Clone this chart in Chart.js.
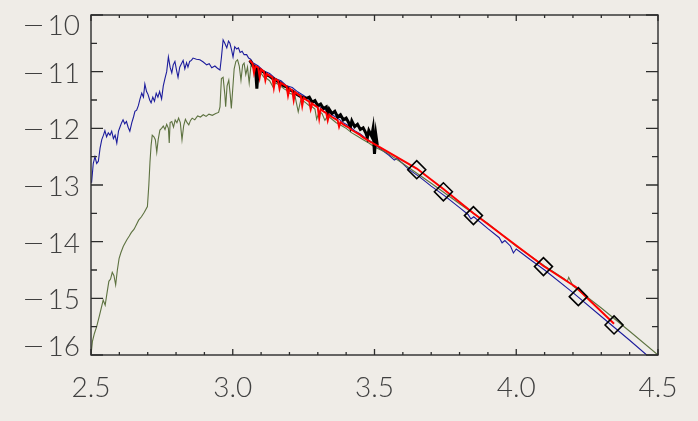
<!DOCTYPE html>
<html>
<head>
<meta charset="utf-8">
<script src="https://cdn.jsdelivr.net/npm/chart.js@4.4.1/dist/chart.umd.min.js"></script>
<style>
  html, body { margin: 0; padding: 0; background: #efece7; }
  #wrap { width: 698px; height: 421px; position: relative; }
</style>
</head>
<body>
<div id="wrap"><canvas id="sed"></canvas></div>
<script>
// axis tick labels
var xLabels = [2.5, 3.0, 3.5, 4.0, 4.5];
var yLabels = [-10, -11, -12, -13, -14, -15, -16];

// blue spectrum
var blueX = [2.502, 2.508, 2.514, 2.520, 2.526, 2.532, 2.538, 2.544, 2.549, 2.555, 2.561, 2.567, 2.573, 2.579, 2.585,
  2.591, 2.597, 2.602, 2.608, 2.613, 2.619, 2.625, 2.631, 2.637, 2.644, 2.650, 2.655, 2.661, 2.667, 2.673,
  2.679, 2.685, 2.690, 2.696, 2.701, 2.707, 2.712, 2.718, 2.724, 2.730, 2.736, 2.742, 2.749, 2.755, 2.761,
  2.767, 2.773, 2.779, 2.785, 2.790, 2.796, 2.802, 2.807, 2.813, 2.819, 2.825, 2.831, 2.837, 2.842, 2.848,
  2.854, 2.860, 2.872, 2.884, 2.896, 2.908, 2.917, 2.926, 2.937, 2.946, 2.955, 2.960, 2.966, 2.972, 2.979,
  2.985, 2.990, 2.996, 3.001, 3.007, 3.014, 3.020, 3.026, 3.033, 3.040, 3.049, 3.056, 3.063, 3.071,
  3.09, 3.11, 3.13, 3.15, 3.17, 3.19, 3.21, 3.23, 3.25, 3.27, 3.29, 3.31, 3.33, 3.35, 3.37, 3.39, 3.41,
  3.43, 3.45, 3.47, 3.50, 3.52, 3.55, 3.57, 3.58, 3.62, 3.66, 3.70, 3.75, 3.80, 3.83, 3.84, 3.85, 3.90,
  3.94, 3.95, 3.96, 3.98, 3.99, 4.00, 4.05, 4.10, 4.20, 4.30, 4.40, 4.46];
var blueY = [-12.96, -12.62, -12.50, -12.62, -12.58, -12.35, -12.20, -12.12, -12.04, -12.15, -12.08, -12.12, -12.05, -12.18, -12.12,
  -12.26, -12.05, -11.98, -11.90, -11.85, -11.92, -11.88, -11.98, -12.05, -11.90, -11.80, -11.70, -11.68, -11.60, -11.48,
  -11.38, -11.45, -11.22, -11.35, -11.40, -11.50, -11.55, -11.45, -11.52, -11.38, -11.45, -11.35, -11.48, -11.25, -11.12,
  -11.00, -10.74, -10.92, -11.02, -10.88, -10.82, -10.98, -11.10, -10.92, -10.86, -10.80, -10.95, -10.84, -10.92, -10.82,
  -10.80, -10.76, -10.78, -10.79, -10.83, -10.88, -10.86, -10.93, -10.90, -10.94, -10.97, -10.75, -10.44, -10.50, -10.58,
  -10.46, -10.50, -10.62, -10.74, -10.56, -10.60, -10.58, -10.66, -10.64, -10.70, -10.70, -10.76, -10.78, -10.84,
  -10.90, -10.99, -11.03, -11.12, -11.16, -11.25, -11.28, -11.36, -11.42, -11.49, -11.55, -11.63, -11.68, -11.76, -11.82, -11.90, -11.96,
  -12.04, -12.10, -12.18, -12.28, -12.36, -12.47, -12.56, -12.53, -12.72, -12.86, -13.02, -13.20, -13.40, -13.52, -13.60, -13.56, -13.77,
  -13.93, -14.02, -13.98, -14.08, -14.20, -14.13, -14.32, -14.50, -14.90, -15.32, -15.74, -16.00];

// green spectrum
var greenX = [2.500, 2.505, 2.512, 2.520, 2.530, 2.543, 2.550, 2.556, 2.563, 2.569, 2.575, 2.581, 2.587, 2.593, 2.599,
  2.605, 2.614, 2.626, 2.635, 2.642, 2.652, 2.660, 2.668, 2.678, 2.688, 2.699, 2.704, 2.708, 2.712, 2.716,
  2.722, 2.727, 2.732, 2.737, 2.743, 2.749, 2.755, 2.761, 2.767, 2.773, 2.776, 2.779, 2.785, 2.791, 2.797,
  2.803, 2.809, 2.815, 2.821, 2.827, 2.833, 2.839, 2.845, 2.851, 2.857, 2.866, 2.876, 2.886, 2.896, 2.906,
  2.916, 2.928, 2.940, 2.950, 2.955, 2.960, 2.966, 2.972, 2.975, 2.980, 2.986, 2.991, 2.995, 3.000, 3.005,
  3.011, 3.017, 3.023, 3.029, 3.035, 3.040, 3.046, 3.052, 3.058, 3.064,
  3.070, 3.080, 3.084, 3.090, 3.100, 3.110, 3.120, 3.130, 3.143, 3.150, 3.160, 3.170, 3.180, 3.190, 3.200,
  3.210, 3.220, 3.231, 3.240, 3.250, 3.260, 3.270, 3.280, 3.290, 3.296, 3.305, 3.315, 3.325, 3.335, 3.350,
  3.365, 3.380, 3.400, 3.420, 3.440, 3.460, 3.480, 3.500, 3.540, 3.600, 3.700, 3.800, 3.900, 4.000, 4.050,
  4.100, 4.170, 4.180, 4.185, 4.200, 4.300, 4.400, 4.500];
var greenY = [-16.00, -15.76, -15.62, -15.50, -15.30, -15.03, -15.12, -14.92, -14.70, -14.66, -14.54, -14.60, -14.76, -14.50, -14.30,
  -14.20, -14.08, -13.97, -13.90, -13.84, -13.78, -13.70, -13.62, -13.56, -13.48, -13.38, -13.00, -12.60, -12.30, -12.12,
  -12.15, -12.20, -12.42, -12.20, -12.03, -12.00, -11.96, -12.02, -11.93, -12.00, -12.26, -11.90, -11.88, -11.98, -11.85,
  -11.90, -11.82, -11.90, -12.20, -11.95, -11.84, -11.90, -11.94, -11.86, -11.82, -11.85, -11.78, -11.80, -11.76, -11.79,
  -11.75, -11.77, -11.74, -11.72, -11.62, -11.12, -11.10, -11.40, -11.62, -11.25, -11.15, -11.40, -11.65, -11.30, -10.95,
  -10.82, -10.79, -10.90, -11.15, -10.88, -10.85, -11.05, -10.92, -11.20, -10.90,
  -10.92, -10.98, -11.18, -11.00, -11.03, -11.10, -11.12, -11.16, -11.28, -11.20, -11.22, -11.26, -11.30, -11.33, -11.38,
  -11.40, -11.44, -11.71, -11.50, -11.52, -11.56, -11.60, -11.62, -11.66, -11.84, -11.70, -11.74, -11.86, -11.78, -11.84,
  -11.90, -11.94, -12.00, -12.08, -12.14, -12.20, -12.26, -12.33, -12.42, -12.62, -12.97, -13.33, -13.68, -14.08, -14.25,
  -14.43, -14.66, -14.70, -14.63, -14.78, -15.17, -15.58, -16.00];

// black spectrum
var blackX = [3.06, 3.07, 3.08, 3.085, 3.09, 3.10, 3.11, 3.12, 3.13, 3.14, 3.15, 3.16, 3.17, 3.18, 3.19, 3.20,
  3.21, 3.22, 3.23, 3.24, 3.25, 3.26, 3.27, 3.28, 3.29, 3.30, 3.31, 3.32, 3.33, 3.335, 3.34, 3.35, 3.36,
  3.37, 3.38, 3.39, 3.40, 3.41, 3.415, 3.42, 3.43, 3.44, 3.45, 3.46, 3.47, 3.475, 3.48, 3.49, 3.495,
  3.50, 3.505, 3.51];
var blackY = [-10.80, -10.88, -10.92, -11.30, -10.95, -10.98, -11.01, -11.06, -11.08, -11.12, -11.14, -11.18, -11.21, -11.25, -11.27, -11.32,
  -11.34, -11.38, -11.41, -11.44, -11.46, -11.47, -11.45, -11.54, -11.51, -11.60, -11.57, -11.65, -11.62, -11.75, -11.66, -11.74, -11.70,
  -11.80, -11.76, -11.85, -11.82, -11.91, -11.98, -11.87, -11.97, -11.93, -12.02, -11.99, -12.09, -12.16, -12.04, -12.14, -12.00,
  -12.45, -12.12, -12.30];

// red spectrum + photometry line
var redX = [3.06, 3.07, 3.075, 3.08, 3.09, 3.095, 3.10, 3.11, 3.115, 3.12, 3.13, 3.14, 3.145, 3.15, 3.16, 3.165,
  3.17, 3.18, 3.19, 3.195, 3.20, 3.21, 3.215, 3.22, 3.23, 3.24, 3.245, 3.25, 3.26, 3.27, 3.275, 3.28, 3.29,
  3.30, 3.305, 3.31, 3.32, 3.33, 3.335, 3.34, 3.35, 3.36, 3.37, 3.375, 3.38, 3.39, 3.40, 3.41, 3.42, 3.43,
  3.44, 3.45, 3.46, 3.47, 3.48, 3.49, 3.50, 3.649, 3.743, 3.849, 4.096, 4.21, 4.345];
var redY = [-10.80, -10.86, -11.02, -10.90, -10.93, -11.10, -10.96, -11.00, -11.15, -11.04, -11.07, -11.10, -11.28, -11.13, -11.16, -11.30,
  -11.20, -11.23, -11.26, -11.42, -11.30, -11.33, -11.50, -11.36, -11.40, -11.43, -11.60, -11.46, -11.50, -11.53, -11.66, -11.56, -11.60,
  -11.63, -11.82, -11.66, -11.70, -11.73, -11.86, -11.76, -11.80, -11.83, -11.86, -11.97, -11.89, -11.93, -11.96, -11.99, -12.03, -12.06,
  -12.09, -12.12, -12.16, -12.19, -12.22, -12.25, -12.28, -12.71, -13.07, -13.50, -14.43, -14.80, -15.45];

// photometric points (diamonds)
var photX = [3.649, 3.743, 3.849, 4.096, 4.219, 4.345];
var photY = [-12.73, -13.12, -13.54, -14.44, -14.97, -15.47];

function pts(xs, ys) {
  var out = [];
  for (var i = 0; i < xs.length; i++) out.push({ x: xs[i], y: ys[i] });
  return out;
}

var FONT = '300 28px "Lato Light", Lato, "Open Sans", sans-serif';

var framePlugin = {
  id: 'frame',
  afterDatasetsDraw: function(chart) {
    var ctx = chart.ctx, a = chart.chartArea;
    var sx = chart.scales.x, sy = chart.scales.y;
    ctx.save();
    ctx.strokeStyle = '#2c2c2c';
    ctx.lineWidth = 1.4;
    ctx.strokeRect(a.left, a.top, a.right - a.left, a.bottom - a.top);

    ctx.lineWidth = 1.3;
    ctx.beginPath();
    // x ticks, every 0.1, major every 0.5
    for (var i = 0; i <= 20; i++) {
      var px = sx.getPixelForValue(2.5 + i * 0.1);
      var len = (i % 5 === 0) ? 6 : 3;
      ctx.moveTo(px, a.bottom); ctx.lineTo(px, a.bottom - len);
      ctx.moveTo(px, a.top); ctx.lineTo(px, a.top + len);
    }
    // y ticks, every 0.5, major every 1
    for (var j = 0; j <= 12; j++) {
      var py = sy.getPixelForValue(-16 + j * 0.5);
      var ylen = (j % 2 === 0) ? 12 : 6;
      ctx.moveTo(a.left, py); ctx.lineTo(a.left + ylen, py);
      ctx.moveTo(a.right, py); ctx.lineTo(a.right - ylen, py);
    }
    ctx.stroke();

    ctx.fillStyle = '#404040';
    ctx.font = FONT;
    ctx.textBaseline = 'alphabetic';
    ctx.textAlign = 'center';
    xLabels.forEach(function(v) {
      ctx.fillText(v.toFixed(1), sx.getPixelForValue(v), a.bottom + 42);
    });
    yLabels.forEach(function(v) {
      var py = sy.getPixelForValue(v);
      var base = Math.min(Math.max(py + 11, a.top + 20), a.bottom + 1);
      ctx.textAlign = 'right';
      ctx.fillText(String(Math.abs(v)), a.left - 11, base);
      // long thin minus sign, stretched horizontally
      ctx.save();
      ctx.translate(33.5, base);
      ctx.scale(1.45, 1);
      ctx.textAlign = 'center';
      ctx.fillText('\u2212', 0, 0);
      ctx.restore();
    });
    ctx.restore();
  }
};

new Chart(document.getElementById('sed'), {
  type: 'line',
  data: {
    datasets: [
      { label: 'photometry', data: pts(photX, photY), showLine: false, pointStyle: 'rectRot',
        pointRadius: 9, pointBorderWidth: 1.6, pointBorderColor: '#000000', pointBackgroundColor: 'rgba(0,0,0,0)' },
      { label: 'red', data: pts(redX, redY), borderColor: '#ff0000', borderWidth: 2.0, pointRadius: 0 },
      { label: 'black', data: pts(blackX, blackY), borderColor: '#000000', borderWidth: 3.0, pointRadius: 0 },
      { label: 'green', data: pts(greenX, greenY), borderColor: '#5d7240', borderWidth: 1.1, pointRadius: 0 },
      { label: 'blue', data: pts(blueX, blueY), borderColor: '#1c1c9c', borderWidth: 1.1, pointRadius: 0 }
    ]
  },
  options: {
    responsive: true,
    maintainAspectRatio: false,
    animation: false,
    layout: { padding: { left: 91, right: 40, top: 15, bottom: 66 } },
    elements: { line: { tension: 0 } },
    plugins: { legend: { display: false }, tooltip: { enabled: false } },
    scales: {
      x: { type: 'linear', min: 2.5, max: 4.5, display: false },
      y: { type: 'linear', min: -16, max: -10, display: false }
    }
  },
  plugins: [framePlugin]
});
</script>
</body>
</html>
